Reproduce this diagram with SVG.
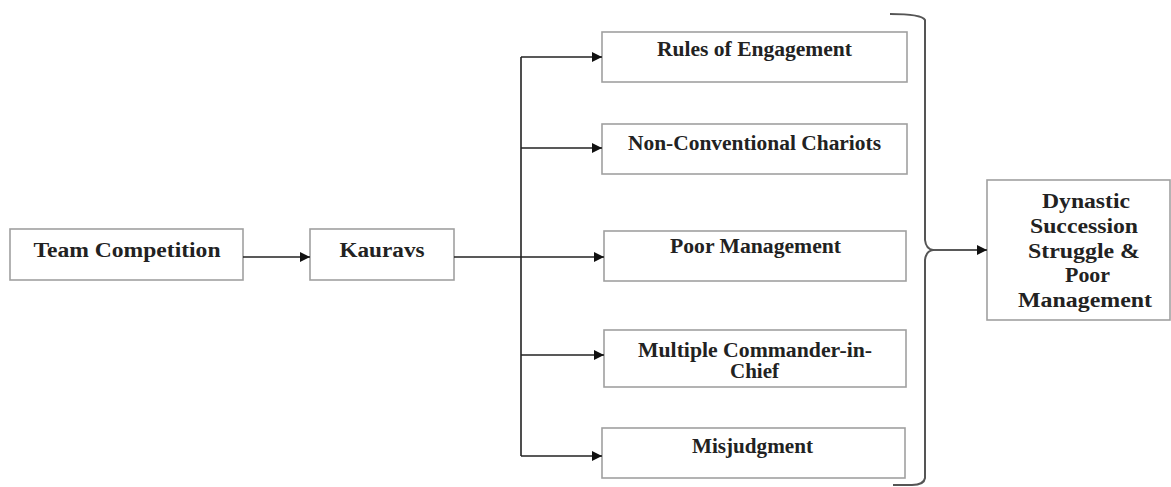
<svg xmlns="http://www.w3.org/2000/svg" width="1171" height="487" viewBox="0 0 1171 487">
<style>
.box{fill:#fff;stroke:#a0a0a0;stroke-width:1.6}
.t{font-family:"Liberation Serif","Times New Roman",serif;font-weight:bold;font-size:20px;fill:#222;text-anchor:middle}
.ln{fill:none;stroke:#222;stroke-width:1.6}
.br{fill:none;stroke:#555;stroke-width:2}
</style>
<defs>
<marker id="ah" viewBox="0 0 10 10" refX="10" refY="5" markerWidth="10" markerHeight="10" markerUnits="userSpaceOnUse" orient="auto">
<path d="M0,0 L10,5 L0,10 z" fill="#111"/>
</marker>
</defs>
<rect width="1171" height="487" fill="#fff"/>
<g id="team"><rect class="box" x="10" y="229" width="233" height="51"/><text class="t" x="127" y="257" textLength="187" lengthAdjust="spacingAndGlyphs">Team Competition</text></g>
<g id="kauravs"><rect class="box" x="310" y="229" width="144" height="51"/><text class="t" x="382" y="257" textLength="85" lengthAdjust="spacingAndGlyphs">Kauravs</text></g>
<g id="rules"><rect class="box" x="602" y="32" width="305" height="50"/><text class="t" x="754.5" y="56" textLength="195" lengthAdjust="spacingAndGlyphs">Rules of Engagement</text></g>
<g id="chariots"><rect class="box" x="602" y="124" width="305" height="50"/><text class="t" x="754.5" y="150" textLength="253" lengthAdjust="spacingAndGlyphs">Non-Conventional Chariots</text></g>
<g id="poor"><rect class="box" x="604" y="231" width="302" height="50"/><text class="t" x="755.5" y="253" textLength="171" lengthAdjust="spacingAndGlyphs">Poor Management</text></g>
<g id="multiple"><rect class="box" x="604" y="330" width="302" height="57"/><text class="t" x="755" y="357" textLength="234" lengthAdjust="spacingAndGlyphs">Multiple Commander-in-</text><text class="t" x="754.5" y="378" textLength="49" lengthAdjust="spacingAndGlyphs">Chief</text></g>
<g id="misjudgment"><rect class="box" x="602" y="428" width="303" height="50"/><text class="t" x="752.5" y="453" textLength="121" lengthAdjust="spacingAndGlyphs">Misjudgment</text></g>
<g id="dynastic"><rect class="box" x="987" y="180" width="183" height="140"/>
<text class="t" x="1086" y="208" textLength="88" lengthAdjust="spacingAndGlyphs">Dynastic</text>
<text class="t" x="1084" y="233" textLength="108" lengthAdjust="spacingAndGlyphs">Succession</text>
<text class="t" x="1084" y="258" textLength="112" lengthAdjust="spacingAndGlyphs">Struggle &amp;</text>
<text class="t" x="1087.5" y="282" textLength="45" lengthAdjust="spacingAndGlyphs">Poor</text>
<text class="t" x="1085" y="307" textLength="134" lengthAdjust="spacingAndGlyphs">Management</text></g>
<g id="connectors">
<line class="ln" x1="243" y1="257" x2="310" y2="257" marker-end="url(#ah)"/>
<line class="ln" x1="454" y1="257" x2="604" y2="257" marker-end="url(#ah)"/>
<line class="ln" x1="521" y1="57" x2="521" y2="456"/>
<line class="ln" x1="521" y1="57" x2="602" y2="57" marker-end="url(#ah)"/>
<line class="ln" x1="521" y1="148" x2="602" y2="148" marker-end="url(#ah)"/>
<line class="ln" x1="521" y1="355" x2="604" y2="355" marker-end="url(#ah)"/>
<line class="ln" x1="521" y1="456" x2="602" y2="456" marker-end="url(#ah)"/>
<path class="br" d="M890,14 Q922,14 925,20 L925,240 Q926,249 933,250 Q926,251 925,260 L925,478 Q924,485 912,485 L893,485"/>
<line class="ln" x1="933" y1="250" x2="987" y2="250" marker-end="url(#ah)"/>
</g>
</svg>
